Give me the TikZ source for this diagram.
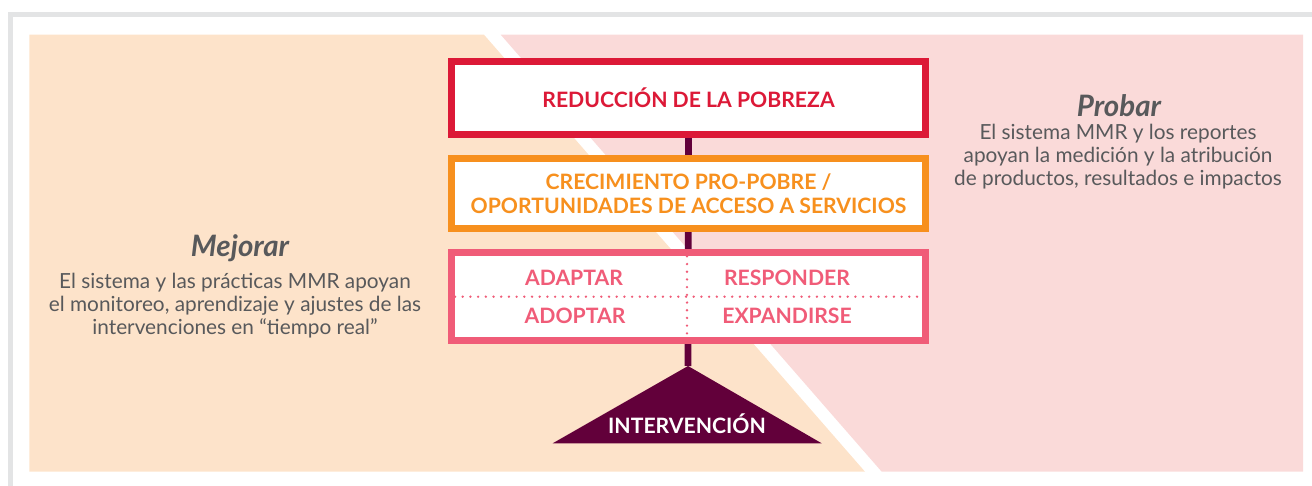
\documentclass[tikz,border=0pt]{standalone}
\usepackage{fontspec}
\setmainfont{Lato}
\usepackage{tikz}
\usetikzlibrary{backgrounds}

\definecolor{framegray}{HTML}{E3E4E5}
\definecolor{peach}{HTML}{FDE3CA}
\definecolor{rose}{HTML}{FADAD9}
\definecolor{mmrred}{HTML}{DC1937}
\definecolor{mmrorange}{HTML}{F7901E}
\definecolor{mmrpink}{HTML}{F05C78}
\definecolor{mmrpurple}{HTML}{62003A}
\definecolor{mmrtext}{HTML}{58595B}

\begin{document}
\begin{tikzpicture}[line join=miter,x=1pt,y=-1pt,
  box/.style={draw,fill=white,line width=7pt,minimum width=474pt,inner sep=0pt,align=center,
    font=\bfseries\fontsize{21.2}{24}\selectfont},
  stem/.style={draw=mmrpurple,line width=6.7pt},
  cell/.style={text=mmrpink,font=\bfseries\fontsize{21.2}{24}\selectfont},
  dots/.style={draw=mmrpink,line width=2.6pt,line cap=round,dash pattern=on 0pt off 7.7pt},
  sidehead/.style={text=mmrtext,font=\itshape\bfseries\fontsize{29.5}{30}\selectfont},
  sidetext/.style={text=mmrtext,align=center,font=\fontsize{20.8}{23}\selectfont}]
\useasboundingbox (0,0) rectangle (1312,486);

% boxes
\node[box,draw=mmrred,text=mmrred,minimum height=73pt] (pov) at (688.5,98) {REDUCCIÓN DE LA POBREZA};
\node[box,draw=mmrorange,text=mmrorange,minimum height=70pt] (grow) at (688.5,193.5)
  {CRECIMIENTO PRO-POBRE /\\OPORTUNIDADES DE ACCESO A SERVICIOS};
\node[box,draw=mmrpink,minimum height=87.7pt] (act) at (688.5,296.7) {};
\draw[dots] ([xshift=7pt]act.west) -- ([xshift=-7pt]act.east);
\draw[dots] ([xshift=-1.5pt,yshift=-7pt]act.north) -- ([xshift=-1.5pt,yshift=7pt]act.south);
\node[cell] (adapt) at (574,278) {ADAPTAR};
\node[cell] (resp) at (787,278) {RESPONDER};
\node[cell] (adopt) at (575,316) {ADOPTAR};
\node[cell] (expand) at (787,316) {EXPANDIRSE};

% intervention
\coordinate (apex) at (688,366);
\fill[mmrpurple] (apex) -- (821.7,443.3) -- (552.7,443.3) -- cycle;
\node[text=white,font=\bfseries\fontsize{21.2}{24}\selectfont] (interv) at (687,424) {INTERVENCIÓN};

% side texts
\node[sidehead] (mejorar) at (240,248) {Mejorar};
\node[sidetext] (mejtext) at (235,306) {El sistema y las prácticas MMR apoyan\\el monitoreo, aprendizaje y ajustes de las\\intervenciones en “tiempo real”};
\node[sidehead] (probar) at (1119,106) {Probar};
\node[sidetext] (probtext) at (1118,157) {El sistema MMR y los reportes\\apoyan la medición y la atribución\\de productos, resultados e impactos};

\begin{scope}[on background layer]
\draw[framegray,line width=5.3pt] (10.65,486) -- (10.65,14.65) -- (1312,14.65);
\fill[peach] (29.3,34.7) -- (484,34.7) -- (865,471.7) -- (29.3,471.7) -- cycle;
\fill[rose] (500.7,34.7) -- (1303,34.7) -- (1303,471.7) -- (881.7,471.7) -- cycle;
\draw[stem] (pov.south) -- (apex);
\end{scope}
\end{tikzpicture}
\end{document}
